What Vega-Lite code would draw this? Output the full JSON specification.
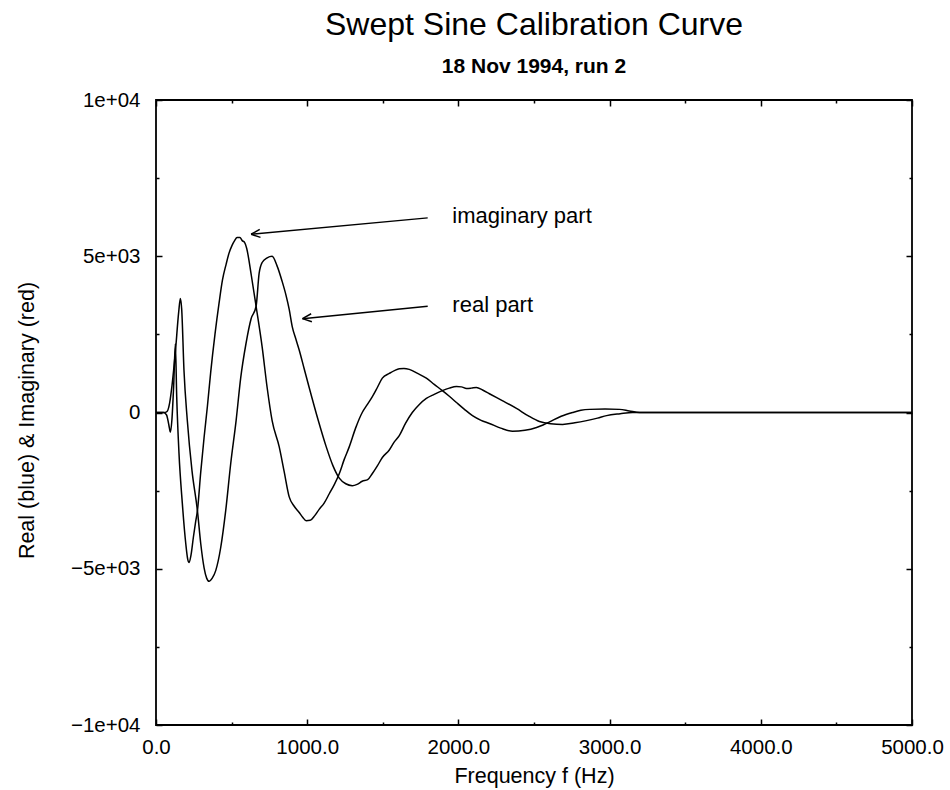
{
  "$schema": "https://vega.github.io/schema/vega-lite/v6.json",
  "width": 756,
  "height": 625,
  "autosize": {"type": "none"},
  "padding": {"left": 156, "top": 100, "right": 38, "bottom": 65},
  "background": "white",
  "config": {
    "font": "Liberation Sans",
    "view": {"stroke": "black", "strokeWidth": 1.8}
  },
  "title": {
    "text": "Swept Sine Calibration Curve",
    "subtitle": "18 Nov 1994, run 2",
    "font": "Liberation Sans",
    "subtitleFont": "Liberation Sans",
    "fontSize": 32,
    "fontWeight": "normal",
    "subtitleFontSize": 21,
    "subtitleFontWeight": "bold",
    "color": "black",
    "subtitleColor": "black",
    "anchor": "middle",
    "offset": 12,
    "subtitlePadding": 14
  },
  "datasets": {
    "curves": [
      {"s": "imag", "f": 0, "v": 0}, {"s": "imag", "f": 50, "v": 0}, {"s": "imag", "f": 70, "v": -80}, {"s": "imag", "f": 85, "v": -400}, {"s": "imag", "f": 95, "v": -630}, {"s": "imag", "f": 105, "v": -250}, {"s": "imag", "f": 117, "v": 870}, {"s": "imag", "f": 128, "v": 2200}, {"s": "imag", "f": 137, "v": 500}, {"s": "imag", "f": 152, "v": -1300}, {"s": "imag", "f": 174, "v": -2900}, {"s": "imag", "f": 197, "v": -4200}, {"s": "imag", "f": 210, "v": -4700}, {"s": "imag", "f": 219, "v": -4800}, {"s": "imag", "f": 232, "v": -4550}, {"s": "imag", "f": 247, "v": -4000}, {"s": "imag", "f": 262, "v": -3500}, {"s": "imag", "f": 274, "v": -3140}, {"s": "imag", "f": 296, "v": -1900}, {"s": "imag", "f": 318, "v": -800}, {"s": "imag", "f": 340, "v": 200}, {"s": "imag", "f": 362, "v": 1300}, {"s": "imag", "f": 390, "v": 2500}, {"s": "imag", "f": 417, "v": 3500}, {"s": "imag", "f": 440, "v": 4250}, {"s": "imag", "f": 464, "v": 4750}, {"s": "imag", "f": 483, "v": 5100}, {"s": "imag", "f": 503, "v": 5350}, {"s": "imag", "f": 520, "v": 5500}, {"s": "imag", "f": 536, "v": 5600}, {"s": "imag", "f": 555, "v": 5600}, {"s": "imag", "f": 570, "v": 5500}, {"s": "imag", "f": 585, "v": 5450}, {"s": "imag", "f": 600, "v": 5250}, {"s": "imag", "f": 630, "v": 4400}, {"s": "imag", "f": 662, "v": 3400}, {"s": "imag", "f": 702, "v": 2100}, {"s": "imag", "f": 735, "v": 800}, {"s": "imag", "f": 768, "v": -260}, {"s": "imag", "f": 815, "v": -1100}, {"s": "imag", "f": 848, "v": -1900}, {"s": "imag", "f": 881, "v": -2700}, {"s": "imag", "f": 914, "v": -3000}, {"s": "imag", "f": 947, "v": -3200}, {"s": "imag", "f": 970, "v": -3350}, {"s": "imag", "f": 993, "v": -3460}, {"s": "imag", "f": 1020, "v": -3450}, {"s": "imag", "f": 1050, "v": -3300}, {"s": "imag", "f": 1079, "v": -3100}, {"s": "imag", "f": 1112, "v": -2900}, {"s": "imag", "f": 1146, "v": -2600}, {"s": "imag", "f": 1180, "v": -2300}, {"s": "imag", "f": 1212, "v": -1960}, {"s": "imag", "f": 1245, "v": -1500}, {"s": "imag", "f": 1278, "v": -1100}, {"s": "imag", "f": 1320, "v": -500}, {"s": "imag", "f": 1364, "v": 0}, {"s": "imag", "f": 1397, "v": 250}, {"s": "imag", "f": 1430, "v": 500}, {"s": "imag", "f": 1464, "v": 800}, {"s": "imag", "f": 1497, "v": 1100}, {"s": "imag", "f": 1543, "v": 1250}, {"s": "imag", "f": 1580, "v": 1350}, {"s": "imag", "f": 1609, "v": 1400}, {"s": "imag", "f": 1640, "v": 1410}, {"s": "imag", "f": 1675, "v": 1380}, {"s": "imag", "f": 1730, "v": 1250}, {"s": "imag", "f": 1788, "v": 1100}, {"s": "imag", "f": 1840, "v": 900}, {"s": "imag", "f": 1894, "v": 700}, {"s": "imag", "f": 1940, "v": 520}, {"s": "imag", "f": 1987, "v": 320}, {"s": "imag", "f": 2040, "v": 100}, {"s": "imag", "f": 2093, "v": -100}, {"s": "imag", "f": 2150, "v": -250}, {"s": "imag", "f": 2205, "v": -350}, {"s": "imag", "f": 2280, "v": -500}, {"s": "imag", "f": 2358, "v": -600}, {"s": "imag", "f": 2440, "v": -570}, {"s": "imag", "f": 2517, "v": -480}, {"s": "imag", "f": 2560, "v": -400}, {"s": "imag", "f": 2603, "v": -300}, {"s": "imag", "f": 2680, "v": -120}, {"s": "imag", "f": 2755, "v": 0}, {"s": "imag", "f": 2810, "v": 70}, {"s": "imag", "f": 2868, "v": 100}, {"s": "imag", "f": 2970, "v": 110}, {"s": "imag", "f": 3066, "v": 100}, {"s": "imag", "f": 3130, "v": 50}, {"s": "imag", "f": 3199, "v": 0}, {"s": "imag", "f": 5000, "v": 0},
      {"s": "real", "f": 0, "v": 0}, {"s": "real", "f": 60, "v": 0}, {"s": "real", "f": 73, "v": 30}, {"s": "real", "f": 90, "v": 300}, {"s": "real", "f": 106, "v": 870}, {"s": "real", "f": 128, "v": 1930}, {"s": "real", "f": 150, "v": 3210}, {"s": "real", "f": 161, "v": 3650}, {"s": "real", "f": 170, "v": 3300}, {"s": "real", "f": 185, "v": 1350}, {"s": "real", "f": 207, "v": -250}, {"s": "real", "f": 238, "v": -1860}, {"s": "real", "f": 274, "v": -3140}, {"s": "real", "f": 296, "v": -4200}, {"s": "real", "f": 318, "v": -4970}, {"s": "real", "f": 335, "v": -5300}, {"s": "real", "f": 351, "v": -5400}, {"s": "real", "f": 372, "v": -5300}, {"s": "real", "f": 395, "v": -5060}, {"s": "real", "f": 428, "v": -4320}, {"s": "real", "f": 461, "v": -3140}, {"s": "real", "f": 494, "v": -1640}, {"s": "real", "f": 530, "v": -250}, {"s": "real", "f": 560, "v": 1100}, {"s": "real", "f": 595, "v": 2200}, {"s": "real", "f": 629, "v": 3000}, {"s": "real", "f": 662, "v": 3400}, {"s": "real", "f": 682, "v": 4450}, {"s": "real", "f": 702, "v": 4800}, {"s": "real", "f": 735, "v": 4950}, {"s": "real", "f": 768, "v": 5000}, {"s": "real", "f": 800, "v": 4700}, {"s": "real", "f": 834, "v": 4200}, {"s": "real", "f": 860, "v": 3750}, {"s": "real", "f": 881, "v": 3300}, {"s": "real", "f": 901, "v": 2750}, {"s": "real", "f": 925, "v": 2350}, {"s": "real", "f": 947, "v": 2000}, {"s": "real", "f": 980, "v": 1400}, {"s": "real", "f": 1013, "v": 800}, {"s": "real", "f": 1070, "v": -200}, {"s": "real", "f": 1126, "v": -1100}, {"s": "real", "f": 1170, "v": -1700}, {"s": "real", "f": 1212, "v": -2100}, {"s": "real", "f": 1255, "v": -2280}, {"s": "real", "f": 1298, "v": -2340}, {"s": "real", "f": 1330, "v": -2300}, {"s": "real", "f": 1364, "v": -2200}, {"s": "real", "f": 1400, "v": -2150}, {"s": "real", "f": 1430, "v": -1960}, {"s": "real", "f": 1465, "v": -1700}, {"s": "real", "f": 1497, "v": -1440}, {"s": "real", "f": 1543, "v": -1200}, {"s": "real", "f": 1575, "v": -950}, {"s": "real", "f": 1609, "v": -740}, {"s": "real", "f": 1650, "v": -350}, {"s": "real", "f": 1695, "v": 0}, {"s": "real", "f": 1740, "v": 250}, {"s": "real", "f": 1788, "v": 450}, {"s": "real", "f": 1840, "v": 580}, {"s": "real", "f": 1894, "v": 700}, {"s": "real", "f": 1940, "v": 780}, {"s": "real", "f": 1987, "v": 830}, {"s": "real", "f": 2020, "v": 820}, {"s": "real", "f": 2053, "v": 770}, {"s": "real", "f": 2085, "v": 780}, {"s": "real", "f": 2119, "v": 800}, {"s": "real", "f": 2160, "v": 720}, {"s": "real", "f": 2205, "v": 600}, {"s": "real", "f": 2290, "v": 380}, {"s": "real", "f": 2384, "v": 130}, {"s": "real", "f": 2460, "v": -100}, {"s": "real", "f": 2536, "v": -290}, {"s": "real", "f": 2610, "v": -360}, {"s": "real", "f": 2689, "v": -380}, {"s": "real", "f": 2770, "v": -330}, {"s": "real", "f": 2848, "v": -260}, {"s": "real", "f": 2920, "v": -180}, {"s": "real", "f": 2980, "v": -100}, {"s": "real", "f": 3070, "v": -40}, {"s": "real", "f": 3152, "v": 0}, {"s": "real", "f": 5000, "v": 0}
    ],
    "labels": [
      {"label": "imaginary part", "f": 1960, "v": 6058},
      {"label": "real part", "f": 1960, "v": 3205}
    ],
    "arrows": [
      {"f": 1797, "v": 6228, "f2": 629, "v2": 5705},
      {"f": 629, "v": 5705, "f2": 691, "v2": 5603},
      {"f": 629, "v": 5705, "f2": 686, "v2": 5859},
      {"f": 1797, "v": 3397, "f2": 969, "v2": 3003},
      {"f": 969, "v": 3003, "f2": 1031, "v2": 2903},
      {"f": 969, "v": 3003, "f2": 1026, "v2": 3160}
    ]
  },
  "resolve": {"axis": {"x": "independent", "y": "independent"}},
  "layer": [
    {
      "data": {"name": "curves"},
      "mark": {"type": "line", "color": "black", "strokeWidth": 1.5, "interpolate": "monotone", "clip": true},
      "encoding": {
        "x": {
          "field": "f", "type": "quantitative",
          "scale": {"domain": [0, 5000], "nice": false, "zero": false},
          "axis": {
            "orient": "bottom",
            "values": [0, 500, 1000, 1500, 2000, 2500, 3000, 3500, 4000, 4500, 5000],
            "labelExpr": "datum.value % 1000 === 0 ? format(datum.value, '.1f') : ''",
            "tickSize": {"condition": {"test": "datum.value % 1000 === 0", "value": -6}, "value": -3},
            "tickColor": "black", "tickWidth": 1.5,
            "domain": false, "grid": false,
            "labelFont": "Liberation Sans", "labelFontSize": 20.5, "labelColor": "black",
            "labelBaseline": "alphabetic", "labelPadding": 34,
            "labelFlush": false, "labelOverlap": false,
            "title": "Frequency f (Hz)",
            "titleFont": "Liberation Sans", "titleFontSize": 21.5, "titleFontWeight": "normal", "titleColor": "black",
            "titleBaseline": "alphabetic", "titleY": 57
          }
        },
        "y": {
          "field": "v", "type": "quantitative",
          "scale": {"domain": [-10000, 10000], "nice": false, "zero": false},
          "axis": {
            "orient": "left",
            "values": [-10000, -7500, -5000, -2500, 0, 2500, 5000, 7500, 10000],
            "labelExpr": "datum.value === 10000 ? '1e+04' : datum.value === 5000 ? '5e+03' : datum.value === 0 ? '0' : datum.value === -5000 ? '\u22125e+03' : datum.value === -10000 ? '\u22121e+04' : ''",
            "tickSize": {"condition": {"test": "datum.value % 5000 === 0", "value": -6}, "value": -3},
            "tickColor": "black", "tickWidth": 1.5,
            "domain": false, "grid": false,
            "labelFont": "Liberation Sans", "labelFontSize": 20.5, "labelColor": "black",
            "labelAlign": "right", "labelBaseline": "middle", "labelPadding": 22,
            "labelFlush": false, "labelOverlap": false,
            "title": "Real (blue) & Imaginary (red)",
            "titleFont": "Liberation Sans", "titleFontSize": 21.5, "titleFontWeight": "normal", "titleColor": "black",
            "titleAngle": -90, "titleAlign": "center", "titleBaseline": "alphabetic", "titleX": -123, "titleY": 320
          }
        },
        "detail": {"field": "s"}
      }
    },
    {
      "data": {"name": "curves"},
      "mark": {"type": "line", "opacity": 0},
      "encoding": {
        "x": {
          "field": "f", "type": "quantitative",
          "scale": {"domain": [0, 5000], "nice": false, "zero": false},
          "axis": {
            "orient": "top",
            "values": [0, 500, 1000, 1500, 2000, 2500, 3000, 3500, 4000, 4500, 5000],
            "labels": false,
            "tickSize": {"condition": {"test": "datum.value % 1000 === 0", "value": -6}, "value": -3},
            "tickColor": "black", "tickWidth": 1.5,
            "domain": false, "grid": false, "title": null
          }
        },
        "y": {
          "field": "v", "type": "quantitative",
          "scale": {"domain": [-10000, 10000], "nice": false, "zero": false},
          "axis": {
            "orient": "right",
            "values": [-10000, -7500, -5000, -2500, 0, 2500, 5000, 7500, 10000],
            "labels": false,
            "tickSize": {"condition": {"test": "datum.value % 5000 === 0", "value": -6}, "value": -3},
            "tickColor": "black", "tickWidth": 1.5,
            "domain": false, "grid": false, "title": null
          }
        },
        "detail": {"field": "s"}
      }
    },
    {
      "data": {"name": "arrows"},
      "mark": {"type": "rule", "color": "black", "strokeWidth": 1.5},
      "encoding": {
        "x": {"field": "f", "type": "quantitative", "axis": null},
        "y": {"field": "v", "type": "quantitative", "axis": null},
        "x2": {"field": "f2"},
        "y2": {"field": "v2"}
      }
    },
    {
      "data": {"name": "labels"},
      "mark": {"type": "text", "align": "left", "baseline": "alphabetic", "font": "Liberation Sans", "fontSize": 22, "color": "black"},
      "encoding": {
        "x": {"field": "f", "type": "quantitative", "axis": null},
        "y": {"field": "v", "type": "quantitative", "axis": null},
        "text": {"field": "label"}
      }
    }
  ]
}
